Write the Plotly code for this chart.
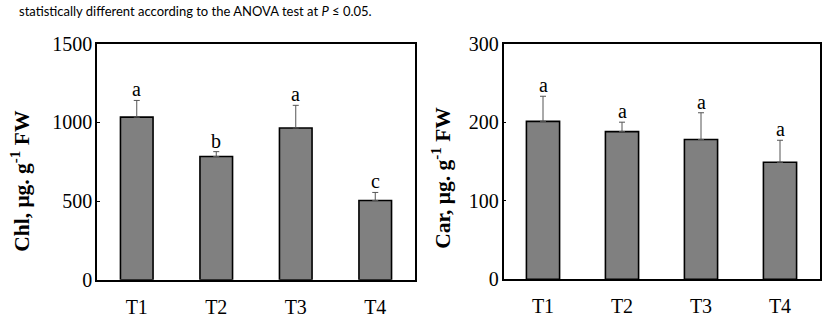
import plotly.graph_objects as go

categories = ["T1", "T2", "T3", "T4"]
chl_values = [1033, 783, 964, 504]
chl_err = [106, 31, 144, 51]
chl_letters = ["a", "b", "a", "c"]
car_values = [201, 188, 178, 149]
car_err = [32, 12, 34, 28]
car_letters = ["a", "a", "a", "a"]
chl_ticks = [0, 500, 1000, 1500]
car_ticks = [0, 100, 200, 300]
caption = "statistically different according to the ANOVA test at <i>P</i> ≤ 0.05."

W = 823
H_LAYOUT = 340
TOP, SPAN = 9.6, 321.0   # measured on-screen extent of the plotting area
SERIF = "Liberation Serif"

def px(x):
    return x / W

def py(y):
    return 1 - (y - TOP) / SPAN

fig = go.Figure()

bar_style = dict(marker=dict(color="#808080", line=dict(color="black", width=1.6)))
err_style = dict(type="data", symmetric=False, color="#555555", thickness=1, width=3)

fig.add_trace(go.Bar(x=categories, y=chl_values, width=0.41,
                     error_y=dict(array=chl_err, arrayminus=[0] * 4, **err_style),
                     xaxis="x", yaxis="y", **bar_style))
fig.add_trace(go.Bar(x=categories, y=car_values, width=0.42,
                     error_y=dict(array=car_err, arrayminus=[0] * 4, **err_style),
                     xaxis="x2", yaxis="y2", **bar_style))

ann = []
for c, v, e, l in zip(categories, chl_values, chl_err, chl_letters):
    ann.append(dict(x=c, y=v + e, xref="x", yref="y", text=l, showarrow=False,
                    yanchor="bottom", yshift=-2, font=dict(family=SERIF, size=20, color="black")))
for c, v, e, l in zip(categories, car_values, car_err, car_letters):
    ann.append(dict(x=c, y=v + e, xref="x2", yref="y2", text=l, showarrow=False,
                    yanchor="bottom", yshift=-2, font=dict(family=SERIF, size=20, color="black")))

ann.append(dict(x=px(21), y=py(181), xref="paper", yref="paper", textangle=-90,
                text="<b>Chl, μg. g<sup>-1</sup> FW</b>", showarrow=False,
                xanchor="center", yanchor="middle",
                font=dict(family=SERIF, size=21.5, color="black")))
ann.append(dict(x=px(442), y=py(178), xref="paper", yref="paper", textangle=-90,
                text="<b>Car, μg. g<sup>-1</sup> FW</b>", showarrow=False,
                xanchor="center", yanchor="middle",
                font=dict(family=SERIF, size=21.5, color="black")))
ann.append(dict(x=px(17), y=py(10), xref="paper", yref="paper", text=caption,
                showarrow=False, xanchor="left", yanchor="middle",
                font=dict(family="Lato", size=13, color="black")))

axis_common = dict(showline=True, linecolor="black", linewidth=1.5, mirror=True,
                   showgrid=False, zeroline=False,
                   tickfont=dict(family=SERIF, size=20, color="black"))

fig.update_layout(
    width=W, height=H_LAYOUT, margin=dict(l=0, r=0, t=0, b=0),
    paper_bgcolor="white", plot_bgcolor="white", showlegend=False,
    annotations=ann,
    xaxis=dict(domain=[px(97), px(415)], range=[-0.5, 3.5], anchor="y", ticks="",
               ticklabelstandoff=8, **axis_common),
    yaxis=dict(domain=[py(281), py(42.5)], range=[0, 1500], anchor="x", tickvals=chl_ticks,
               ticks="inside", ticklen=3, tickcolor="black", ticklabelstandoff=-1, **axis_common),
    xaxis2=dict(domain=[px(503.5), px(819.5)], range=[-0.5, 3.5], anchor="y2", ticks="",
                ticklabelstandoff=8, **axis_common),
    yaxis2=dict(domain=[py(280.5), py(42.5)], range=[0, 300], anchor="x2", tickvals=car_ticks,
                ticks="inside", ticklen=3, tickcolor="black", ticklabelstandoff=-1, **axis_common),
)

fig.write_html("out.html", config={"responsive": False, "displayModeBar": False},
               post_script="document.body.style.margin='0';document.body.style.overflow='hidden';")
